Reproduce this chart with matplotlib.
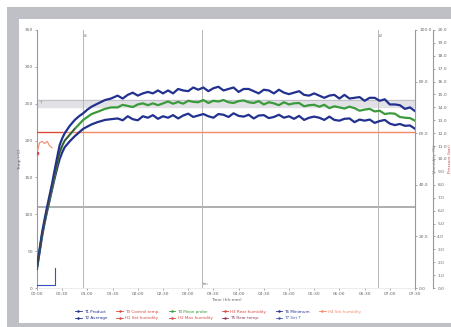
import matplotlib
matplotlib.use("Agg")
import matplotlib.pyplot as plt
from matplotlib.patches import Rectangle
from matplotlib.lines import Line2D
from matplotlib.ticker import FuncFormatter, MultipleLocator

# ---------------- data ----------------
t_rise = [0, 3, 6, 9, 12, 15, 18, 21, 25, 27, 30, 33, 39, 45, 50, 55, 60, 65, 72, 81, 88]
t_plat = [96, 102, 108, 114, 120, 126, 132, 138, 144, 150, 156, 162, 168, 174, 180, 186, 192, 198,
          204, 210, 216, 222, 228, 234, 240, 246, 252, 258, 264, 270, 276, 282, 288, 294, 300, 306,
          312, 318, 324, 330, 336, 342, 348, 354, 360, 366, 372, 378, 384, 390, 396, 402, 408, 414,
          420, 426, 432, 438, 444, 450]
time_min = t_rise + t_plat

upper_temp = [30, 52, 75, 93, 110, 126, 142, 160, 183, 194, 203, 210, 220, 228, 233, 237, 242, 246, 250, 255, 257,
              261, 257, 262, 265, 261, 264, 266, 264, 268, 264, 268, 264, 270, 268, 267, 272, 269, 272,
              267, 271, 273, 268, 270, 272, 266, 270, 270, 267, 264, 269, 268, 264, 269, 265, 263, 265,
              267, 262, 261, 264, 261, 258, 261, 262, 257, 262, 257, 258, 259, 254, 258, 258, 254, 256,
              249, 249, 248, 243, 245, 240]
mean_temp = [28, 50, 72, 90, 106, 121, 137, 153, 174, 184, 193, 200, 208, 216, 222, 228, 232, 236, 239, 243, 245,
             245, 248.5, 247, 245.5, 249, 250.5, 248, 250.5, 248, 250.5, 253, 250, 252.5, 250, 254, 252.5, 252, 255,
             251, 254, 253, 255, 252, 251, 253.5, 254.5, 252, 251, 253.5, 249, 252, 250.5, 248, 252, 249, 250.5,
             251, 246.5, 248, 248.5, 246, 248.5, 244, 246.5, 245, 243.5, 246, 244, 240.5, 242, 243, 239.5, 240.5, 236,
             237, 236.5, 232, 231, 230.5, 227]
lower_temp = [26, 48, 70, 88, 104, 119, 134, 149, 167, 175, 184, 191, 199, 206, 211, 216, 219, 222, 225, 228, 229,
              230, 227.5, 233, 229, 227.5, 233, 231, 234.5, 229.5, 233, 231, 234.5, 230, 234, 236.5, 232, 234, 236,
              233, 231, 236, 235, 232, 237, 233.5, 232.5, 235, 230, 234, 234.5, 230.5, 232, 235, 231, 233, 229.5,
              233.5, 228, 231, 232.5, 231, 228, 232.5, 228, 227, 229.5, 230, 225, 228.5, 227, 228.5, 224, 226.5, 228,
              223, 221, 222.5, 220, 220.5, 216]

start_time = [0, 3, 6, 9, 12, 15, 18]
start_setpoint = [183, 197, 199, 196, 199, 193, 190]

setpoint_level = 211
control_end = 30
band_low, band_high = 245, 255
limit_level = 110
marker_times = [55, 196, 406]
marker_labels = ["t1", "tm", "t2"]
step_x = [0, 21, 21]
step_y = [4, 4, 27]

x_ticks = list(range(0, 451, 30))
x_tick_labels = ["%02d:%02d" % (m // 60, m % 60) for m in x_ticks]

legend_labels = ["T1 Product", "T2 Average", "T3 Control temp.", "H1 Set humidity",
                 "T4 Mean probe", "H2 Max humidity", "H3 Rear humidity", "T5 Rear temp.",
                 "T6 Minimum", "T7 Set T", "H4 Set humidity"]

# ---------------- figure ----------------
W, H = 452, 327
fig = plt.figure(figsize=(W / 100, H / 100), dpi=100)
fig.patch.set_facecolor("white")
fig.patches.append(Rectangle((7 / W, 0), 1, (H - 7) / H, transform=fig.transFigure,
                             facecolor="#bfbfc6", edgecolor="none", zorder=-10))
fig.patches.append(Rectangle((19 / W, 4 / H), 1, (H - 19 - 4) / H, transform=fig.transFigure,
                             facecolor="white", edgecolor="none", zorder=-9))

ax = fig.add_axes([37 / W, (H - 288) / H, (415 - 37) / W, (288 - 30) / H])
ax.set_facecolor("none")

navy = "#22318f"
green = "#3b9a3b"
orange = "#f4896a"
red = "#d9483f"
grey = "#a8a8a8"

ax.axhspan(band_low, band_high, color="#e2e2e6", zorder=1)
ax.axhline(band_high, color="#c0c0c6", lw=0.8, zorder=1)
ax.text(2, band_high - 1, "Tₗ", fontsize=3, color="#888888", va="top")
ax.axhline(limit_level, color=grey, lw=1.3, zorder=2)
for xm, lab in zip(marker_times, marker_labels):
    ax.axvline(xm, color="#b5b5b5", lw=0.7, zorder=2)
    if lab == "tm":
        ax.text(xm + 1, 3, lab, fontsize=3, color="#777777", va="bottom")
    else:
        ax.text(xm + 1, 345, lab, fontsize=3, color="#777777", va="top")

ax.plot([0, 450], [setpoint_level, setpoint_level], color=orange, lw=1.0, zorder=3)
ax.plot([0, control_end], [setpoint_level, setpoint_level], color=red, lw=0.8, zorder=3)
ax.plot(start_time, start_setpoint, color=orange, lw=0.8, zorder=3)
ax.plot(start_time[:1], start_setpoint[:1], marker="s", ms=1.5, color=red, zorder=3)

ax.plot(time_min, lower_temp, color=navy, lw=1.6, zorder=4)
ax.plot(time_min, mean_temp, color=green, lw=1.6, zorder=5)
ax.plot(time_min, upper_temp, color=navy, lw=1.6, zorder=6)
ax.plot(time_min[:14], mean_temp[:14], color="#444444", lw=0.8, zorder=7)
ax.plot(step_x, step_y, color="#3a4fc0", lw=0.8, zorder=7)

ax.set_xlim(0, 450)
ax.set_ylim(0, 350)
ax.set_xticks(x_ticks)
ax.set_xticklabels(x_tick_labels)
ax.yaxis.set_major_locator(MultipleLocator(50))
ax.tick_params(labelsize=3.2, colors="#666666", length=1.5, width=0.4, pad=1.5)
ax.set_xlabel("Time (hh:mm)", fontsize=3.2, color="#666666", labelpad=1)
ax.set_ylabel("Temp (°C)", fontsize=3.2, color="#666666", labelpad=2)
ax.spines["top"].set_visible(False)
ax.spines["left"].set_color("#999999")
ax.spines["left"].set_linewidth(0.8)
ax.spines["bottom"].set_color("#dddddd")
ax.spines["bottom"].set_linewidth(0.4)
ax.spines["right"].set_visible(False)

ax2 = ax.twinx()
ax2.set_ylim(0, 100)
ax2.yaxis.set_major_locator(MultipleLocator(20))
ax2.yaxis.set_major_formatter(FuncFormatter(lambda v, p: "%.1f" % v))
ax2.tick_params(labelsize=3.2, colors="#666666", length=1.5, width=0.4, pad=1.5)
ax2.spines["right"].set_color("#999999")
ax2.spines["right"].set_linewidth(0.8)
for s in ["top", "left", "bottom"]:
    ax2.spines[s].set_visible(False)
ax2.set_ylabel("Humidity (%)", fontsize=3.2, color="#777777", labelpad=1)

ax3 = ax.twinx()
ax3.spines["right"].set_position(("axes", 1.048))
ax3.set_ylim(0, 20)
ax3.yaxis.set_major_locator(MultipleLocator(1))
ax3.yaxis.set_major_formatter(FuncFormatter(lambda v, p: "%.1f" % v))
ax3.tick_params(labelsize=3.2, colors="#666666", length=1.5, width=0.4, pad=1.5)
ax3.spines["right"].set_color("#999999")
ax3.spines["right"].set_linewidth(0.8)
for s in ["top", "left", "bottom"]:
    ax3.spines[s].set_visible(False)
ax3.set_ylabel("Pressure (bar)", fontsize=3.0, color="#d04848", labelpad=0.8)

legend_colors = [navy, navy, red, red, green, red, red, "#8a3a55", navy, "#4a5aa8", orange]
handles = [Line2D([0], [0], color=c, lw=0.6, marker="o", ms=0.8) for c in legend_colors]
fig.legend(handles, legend_labels, loc="upper center", bbox_to_anchor=(218 / W, 1 - 306 / H),
           ncol=6, fontsize=3.0, frameon=False, handlelength=1.6, columnspacing=2.2,
           handletextpad=0.5, labelspacing=0.6, labelcolor="linecolor")

fig.savefig("out.png", dpi=100, facecolor=fig.get_facecolor())
